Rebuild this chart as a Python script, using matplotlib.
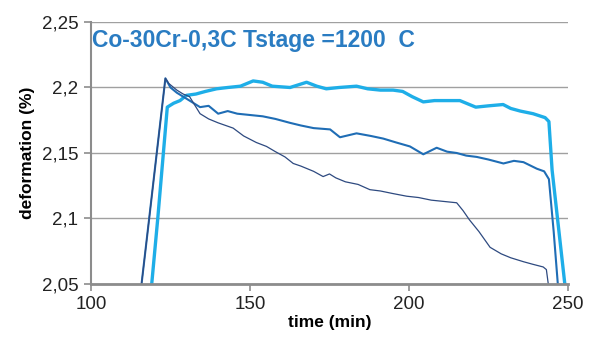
import matplotlib
matplotlib.use("agg")
import matplotlib.pyplot as plt

plt.rcParams['font.family'] = ['Liberation Sans', 'DejaVu Sans']

# time (min) / deformation (%)
tA = [115.9, 118.3, 123.4, 124.5, 127, 129, 131, 134.3, 137, 140, 144.7, 148, 152, 155.2, 158, 161,
      163.6, 166, 170, 173, 175, 177, 180, 184, 187.7, 191, 195, 199.3, 203, 207, 211, 215, 217,
      219, 222, 225.5, 229, 232, 236, 239, 242.2, 243.2, 243.8]
vA = [2.05, 2.10, 2.207, 2.203, 2.198, 2.195, 2.193, 2.180, 2.176, 2.173, 2.169, 2.163, 2.158, 2.155,
      2.151, 2.147, 2.142, 2.140, 2.136, 2.132, 2.134, 2.131, 2.128, 2.126, 2.122, 2.121, 2.119,
      2.117, 2.116, 2.114, 2.113, 2.112, 2.106, 2.099, 2.090, 2.078, 2.073, 2.070, 2.067, 2.065,
      2.063, 2.061, 2.05]

tB = [115.9, 118.3, 123.4, 125, 127, 129, 131, 134.3, 137, 140, 143, 146, 150, 154, 158, 162.6, 166,
      170, 175.2, 178.3, 183.5, 188, 191.9, 196, 200.3, 204.5, 208.7, 212, 215, 218, 221.3, 225,
      229.7, 233, 236, 240.2, 242.5, 244, 245.5, 246.8]
vB = [2.05, 2.10, 2.207, 2.200, 2.196, 2.193, 2.190, 2.185, 2.186, 2.180, 2.182, 2.180, 2.179, 2.178,
      2.176, 2.173, 2.171, 2.169, 2.168, 2.162, 2.165, 2.163, 2.161, 2.158, 2.155, 2.149, 2.154,
      2.151, 2.150, 2.148, 2.147, 2.145, 2.142, 2.144, 2.143, 2.138, 2.136, 2.130, 2.090, 2.05]

tC = [119.1, 121, 124, 126, 128, 130, 133, 136, 139.5, 143, 147, 151, 154, 157, 162.6, 167.8, 171,
      174, 178, 183.5, 187, 191, 195, 198, 201, 204.5, 208, 212, 216, 219, 221, 225, 229.6, 232,
      235, 239, 242.8, 244, 245, 249]
vC = [2.05, 2.10, 2.185, 2.188, 2.190, 2.194, 2.195, 2.197, 2.199, 2.200, 2.201, 2.205, 2.204, 2.201,
      2.200, 2.204, 2.201, 2.199, 2.200, 2.201, 2.199, 2.198, 2.198, 2.197, 2.193, 2.189, 2.190,
      2.190, 2.190, 2.187, 2.185, 2.186, 2.187, 2.184, 2.182, 2.180, 2.177, 2.174, 2.137, 2.05]

xticks = [100, 150, 200, 250]
yticks = [2.05, 2.1, 2.15, 2.2, 2.25]
ylabels = ["2,05", "2,1", "2,15", "2,2", "2,25"]

fig = plt.figure(figsize=(5.9, 3.41), dpi=100)
ax = fig.add_axes([0.1542, 0.1672, 0.8085, 0.7683])

ax.plot(tC, vC, color="#1eaee8", lw=2.4, solid_joinstyle="round")
ax.plot(tB, vB, color="#1f6db5", lw=1.5)
ax.plot(tA, vA, color="#2e4a80", lw=0.9)

ax.set_xlim(100, 250)
ax.set_ylim(2.05, 2.25)
ax.set_xticks(xticks)
ax.set_yticks(yticks)
ax.set_yticklabels(ylabels)
ax.yaxis.grid(True, color="#a0a0a0", lw=1.0)
ax.set_axisbelow(True)

for s in ["top", "right"]:
    ax.spines[s].set_visible(False)
ax.spines["left"].set_color("#8c8c8c")
ax.spines["left"].set_linewidth(1.5)
ax.spines["bottom"].set_color("#8c8c8c")
ax.spines["bottom"].set_linewidth(2.0)
ax.tick_params(axis="both", direction="out", length=5, width=1.2, color="#8c8c8c",
               labelsize=13.5, labelcolor="#222222", pad=4)

ax.set_xlabel("time (min)", fontsize=12.5, fontweight="bold", labelpad=1)
ax.set_ylabel("deformation (%)", fontsize=12.5, fontweight="bold", labelpad=5)

ax.text(0.003, 0.93, "Co-30Cr-0,3C Tstage =1200  C", transform=ax.transAxes,
        fontsize=16.5, fontweight="bold", color="#2a7cc2", va="center", ha="left")

fig.savefig("out.png", dpi=100)
